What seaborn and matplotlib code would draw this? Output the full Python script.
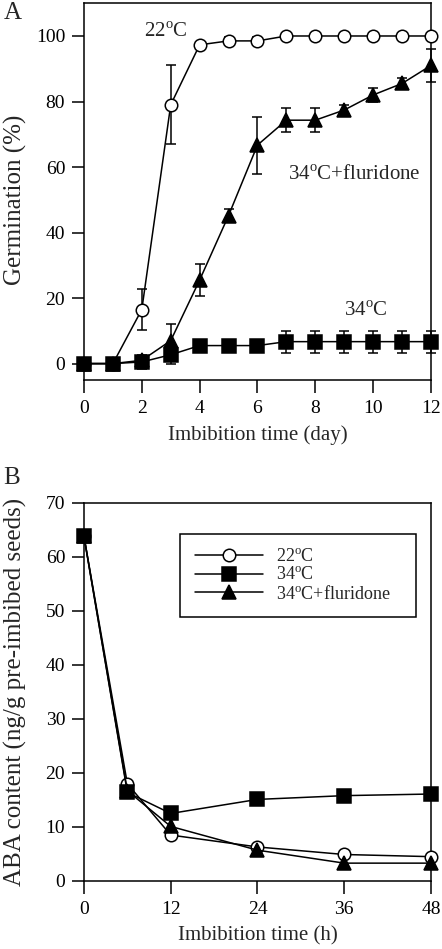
import numpy as np
import pandas as pd
import matplotlib
matplotlib.use("Agg")
import matplotlib.pyplot as plt
import seaborn as sns

# panel A: germination (%) vs imbibition time (day)
days = [0, 1, 2, 3, 4, 5, 6, 7, 8, 9, 10, 11, 12]
germ_22 = [0, 0, 16.5, 79, 97.3, 98.5, 98.5, 100, 100, 100, 100, 100, 100]
germ_22_err = [0, 0, 6.3, 12, 1, 1.3, 1.3, 0, 0, 0, 0, 0, 0]
germ_34 = [0, 0, 0.5, 2.7, 5.5, 5.5, 5.5, 6.7, 6.7, 6.7, 6.7, 6.7, 6.7]
germ_34_err = [0, 0, 2, 2.7, 0.8, 0, 0, 3.4, 3.4, 3.4, 3.4, 3.4, 3.4]
germ_flu = [0, 0, 1, 7, 25.5, 45.2, 66.7, 74.3, 74.3, 77.4, 82, 85.5, 91]
germ_flu_err = [0, 0, 1, 5, 5, 2, 8.7, 3.7, 3.7, 1.5, 2.2, 1.8, 5]

# panel B: ABA content vs imbibition time (h)
hours = [0, 6, 12, 24, 36, 48]
aba_22 = [63.8, 18.0, 8.5, 6.3, 4.9, 4.5]
aba_34 = [63.8, 16.4, 12.5, 15.1, 15.8, 16.1]
aba_flu = [63.8, 16.7, 10.1, 5.7, 3.3, 3.3]

lab_22 = r"22$^{\mathrm{o}}$C"
lab_34 = r"34$^{\mathrm{o}}$C"
lab_flu = r"34$^{\mathrm{o}}$C+fluridone"

sns.set_style("ticks")
plt.rcParams["font.family"] = ["Liberation Serif", "DejaVu Serif"]
plt.rcParams["mathtext.fontset"] = "custom"
plt.rcParams["mathtext.rm"] = "Liberation Serif"
plt.rcParams["font.size"] = 15
plt.rcParams["xtick.labelsize"] = 14
plt.rcParams["ytick.labelsize"] = 14
plt.rcParams["axes.linewidth"] = 1.1
plt.rcParams["xtick.major.width"] = 1.1
plt.rcParams["ytick.major.width"] = 1.1
plt.rcParams["xtick.major.size"] = 9
plt.rcParams["ytick.major.size"] = 9
plt.rcParams["xtick.major.pad"] = 5.5
plt.rcParams["ytick.major.pad"] = 4.5
plt.rcParams["xtick.direction"] = "out"
plt.rcParams["ytick.direction"] = "out"
plt.rcParams["axes.edgecolor"] = "black"
plt.rcParams["xtick.color"] = "black"
plt.rcParams["ytick.color"] = "black"

fig = plt.figure(figsize=(4.42, 9.49), dpi=100)
axA = fig.add_axes([0.190, 0.5996, 0.785, 0.397])
axB = fig.add_axes([0.190, 0.0717, 0.785, 0.3983])

styles = {
    "22": dict(marker="o", markerfacecolor="white", markersize=9),
    "34": dict(marker="s", markerfacecolor="black", markersize=9.5),
    "flu": dict(marker="^", markerfacecolor="black", markersize=10),
}

series_A = [("22", germ_22, germ_22_err, lab_22),
            ("34", germ_34, germ_34_err, lab_34),
            ("flu", germ_flu, germ_flu_err, lab_flu)]
for key, vals, err, lab in series_A:
    df = pd.DataFrame({"x": days, "y": vals})
    sns.lineplot(data=df, x="x", y="y", ax=axA, color="black", lw=1.1,
                 markeredgecolor="black", markeredgewidth=1.1,
                 clip_on=False, zorder=3, **styles[key])
    e = np.array(err)
    mask = e > 0
    axA.errorbar(np.array(days)[mask], np.array(vals)[mask], yerr=e[mask],
                 fmt="none", ecolor="black", elinewidth=1.1, capsize=3.5,
                 capthick=1.1, clip_on=False, zorder=2)

axA.set_xlim(0, 12)
axA.set_ylim(-5, 110)
axA.set_xticks(range(0, 13, 2))
axA.set_yticks(range(0, 101, 20))
axA.set_xlabel("Imbibition time (day)", labelpad=6)
axA.set_ylabel("Germination (%)", fontsize=18)
axA.yaxis.set_label_coords(-0.165, 0.478)
axA.text(3.6, 101, lab_22, ha="right", va="center")
axA.text(7.05, 57.5, lab_flu, ha="left", va="center")
axA.text(9.0, 16.0, lab_34, ha="left", va="center")

for key, vals, lab in [("22", aba_22, lab_22), ("34", aba_34, lab_34), ("flu", aba_flu, lab_flu)]:
    df = pd.DataFrame({"x": hours, "y": vals})
    sns.lineplot(data=df, x="x", y="y", ax=axB, color="black", lw=1.1,
                 markeredgecolor="black", markeredgewidth=1.1,
                 clip_on=False, zorder=3, label=lab, **styles[key])

axB.set_xlim(0, 48)
axB.set_ylim(0, 70)
axB.set_xticks(range(0, 49, 12))
axB.set_yticks(range(0, 71, 10))
axB.set_xlabel("Imbibition time (h)", labelpad=6)
axB.set_ylabel("ABA content (ng/g pre-imbibed seeds)", fontsize=18)
axB.yaxis.set_label_coords(-0.165, 0.5)
leg = axB.legend(loc="upper left", bbox_to_anchor=(0.277, 0.706, 0.68, 0.212),
                 mode="expand", borderaxespad=0,
                 frameon=True, fancybox=False, edgecolor="black", framealpha=1,
                 handlelength=3.8, labelspacing=0.05, borderpad=0.8,
                 handletextpad=0.7, fontsize=13)
leg.get_frame().set_linewidth(1.1)

for ax in (axA, axB):
    for s in ax.spines.values():
        s.set_visible(True)
        s.set_color("black")

fig.text(0.008, 0.986, "A", fontsize=18, va="center", ha="left")
fig.text(0.008, 0.496, "B", fontsize=18, va="center", ha="left")

fig.savefig("out.png", dpi=100)
